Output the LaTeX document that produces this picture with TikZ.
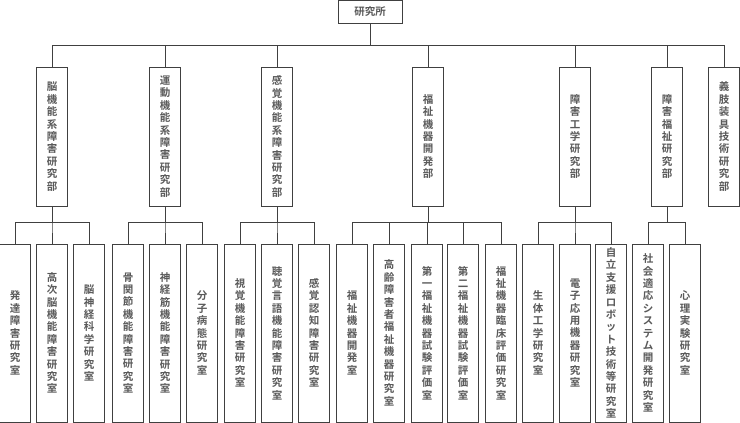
\documentclass[tikz,border=0pt]{standalone}
\usepackage{fontspec}
\newfontfamily\jp{Noto Sans CJK JP Bold}
\def\vtx#1{\ifx\relax#1\else\hbox to 11pt{\hss#1\hss}\expandafter\vtx\fi}
\newcommand\vt[1]{\vbox{\baselineskip=12.4pt\expandafter\vtx#1\relax}}
\begin{document}
\begin{tikzpicture}[x=1pt,y=-1pt,
  bx/.style={draw=black!75,line width=0.9pt,inner sep=0pt,minimum width=31pt,text=black!65,font=\jp\fontsize{10.5}{12}\selectfont},
  dept/.style={bx,minimum height=139pt},
  lab/.style={bx,minimum height=178pt},
  ln/.style={draw=black!75,line width=0.9pt}]
\useasboundingbox (0,0) rectangle (740,423);
\node[bx,minimum width=64pt,minimum height=23pt] (top) at (370,11.5) {研究所};
\foreach \n/\x/\t in {d1/52/脳機能系障害研究部,d2/165/運動機能系障害研究部,d3/277/感覚機能系障害研究部,d4/428/福祉機器開発部,d5/575/障害工学研究部,d6/667/障害福祉研究部,d7/724/義肢装具技術研究部}
  {\node[dept] (\n) at (\x,136.5) {\vt{\t}};
   \draw[ln] (top.south) -- ++(0,22) -| (\n.north);}
\foreach \n/\x/\p/\t in {l1/15/d1/発達障害研究室,l2/52/d1/高次脳機能障害研究室,l3/89/d1/脳神経科学研究室,
  l4/128/d2/骨関節機能障害研究室,l5/165/d2/神経筋機能障害研究室,l6/202/d2/分子病態研究室,
  l7/240/d3/視覚機能障害研究室,l8/277/d3/聴覚言語機能障害研究室,l9/314/d3/感覚認知障害研究室,
  l10/352/d4/福祉機器開発室,l11/389/d4/高齢障害者福祉機器研究室,l12/427/d4/第一福祉機器試験評価室,l13/463/d4/第二福祉機器試験評価室,l14/501/d4/福祉機器臨床評価研究室,
  l15/538/d5/生体工学研究室,l16/575/d5/電子応用機器研究室,l17/611/d5/自立支援ロボット技術等研究室,
  l18/648/d6/社会適応システム開発研究室,l19/685/d6/心理実験研究室}
  {\node[lab] (\n) at (\x,333) {\vt{\t}};
   \draw[ln] (\p.south) -- ++(0,16) -| (\n.north);}
\end{tikzpicture}
\end{document}
